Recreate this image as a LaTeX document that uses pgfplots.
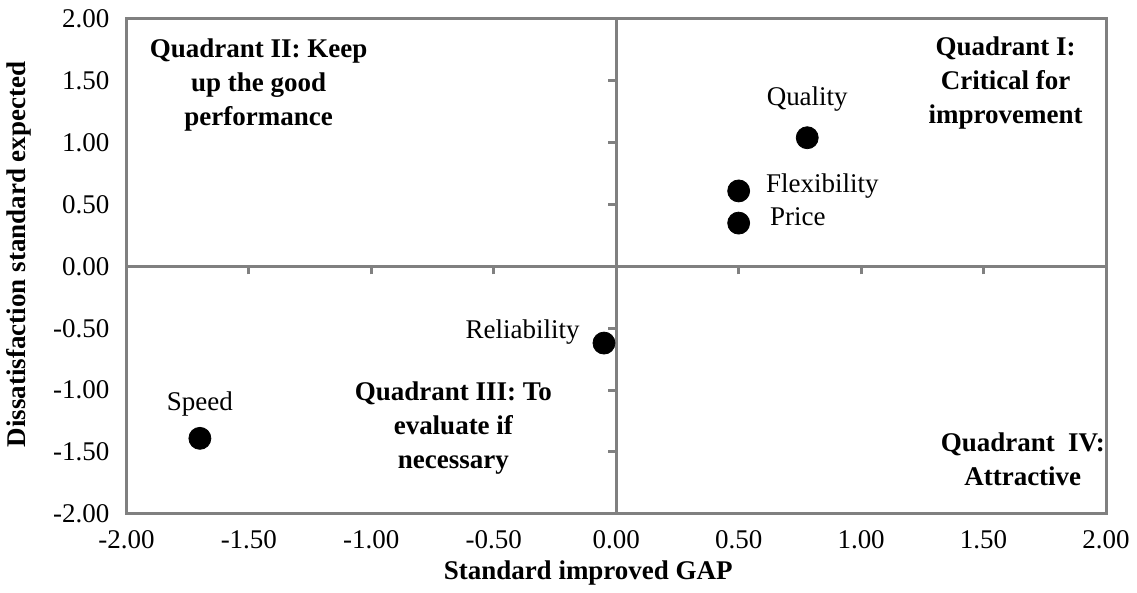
\documentclass[border=0pt]{standalone}
\usepackage{pgfplots}
\pgfplotsset{compat=1.18}
\usepackage{fontspec}
\setmainfont{Liberation Serif}
\begin{document}
\begin{tikzpicture}
\pgfplotsset{
  quadbase/.style={
    scale only axis, width=490pt, height=247.5pt,
    xmin=-2, xmax=2, ymin=-2, ymax=2,
  },
}
% centre lines with their tick marks
\begin{axis}[quadbase,
  axis lines=middle,
  axis line style={draw=gray, line width=1.5pt, -},
  xtick={-1.5,-1,-0.5,0.5,1,1.5},
  ytick={-1.5,-1,-0.5,0.5,1,1.5},
  xticklabels={}, yticklabels={},
  tick align=outside,
  major tick length=4pt,
  tick style={draw=gray, line width=1.5pt},
]
\end{axis}
% frame, tick labels and data
\begin{axis}[quadbase, name=ax,
  axis line style={draw=gray, line width=1.5pt},
  xtick={-2,-1.5,...,2}, ytick={-2,-1.5,...,2},
  major tick length=0pt,
  tick label style={font=\fontsize{13.5}{15}\selectfont},
  xticklabel style={yshift=-5pt},
  yticklabel style={xshift=-5pt},
  /pgf/number format/fixed,
  /pgf/number format/fixed zerofill,
  /pgf/number format/precision=2,
  /pgf/number format/assume math mode=true,
  xlabel={\textbf{Standard improved GAP}},
  ylabel={\textbf{Dissatisfaction standard expected}},
  label style={font=\fontsize{13.5}{15}\selectfont},
  xlabel style={xshift=-14pt, yshift=1pt},
  ylabel style={xshift=6pt, yshift=4pt},
  clip=false,
  only marks,
  mark=*, mark size=5.5pt,
  every mark/.append style={fill=black, draw=black},
  nodes near coords, point meta=explicit symbolic,
  nodes near coords style={font=\fontsize{13.5}{15}\selectfont, inner sep=0pt},
]
\addplot[black, nodes near coords style={anchor=south, yshift=13pt}]
  coordinates {(0.78,1.04) [Quality]};
\addplot[black, nodes near coords style={anchor=west, xshift=13.5pt, yshift=2.5pt}]
  coordinates {(0.50,0.61) [Flexibility]};
\addplot[black, nodes near coords style={anchor=west, xshift=15.5pt, yshift=3pt}]
  coordinates {(0.50,0.35) [Price]};
\addplot[black, nodes near coords style={anchor=east, xshift=-12pt, yshift=5.5pt}]
  coordinates {(-0.05,-0.62) [Reliability]};
\addplot[black, nodes near coords style={anchor=south, yshift=11pt}]
  coordinates {(-1.70,-1.39) [Speed]};

\node[font=\fontsize{13.5}{17}\selectfont\bfseries, align=center]
  at (axis cs:-1.46,1.47) {Quadrant II: Keep\\up the good\\performance};
\node[font=\fontsize{13.5}{17}\selectfont\bfseries, align=center]
  at (axis cs:1.59,1.48) {Quadrant I:\\Critical for\\improvement};
\node[font=\fontsize{13.5}{17}\selectfont\bfseries, align=center]
  at (axis cs:-0.665,-1.31) {Quadrant III: To\\evaluate if\\necessary};
\node[font=\fontsize{13.5}{17}\selectfont\bfseries, align=center]
  at (axis cs:1.66,-1.56) {Quadrant\ \ IV:\\Attractive};
\end{axis}
\path ([xshift=-63pt,yshift=-35.5pt]ax.south west) rectangle ([xshift=15.5pt,yshift=9.5pt]ax.north east);
\end{tikzpicture}
\end{document}
